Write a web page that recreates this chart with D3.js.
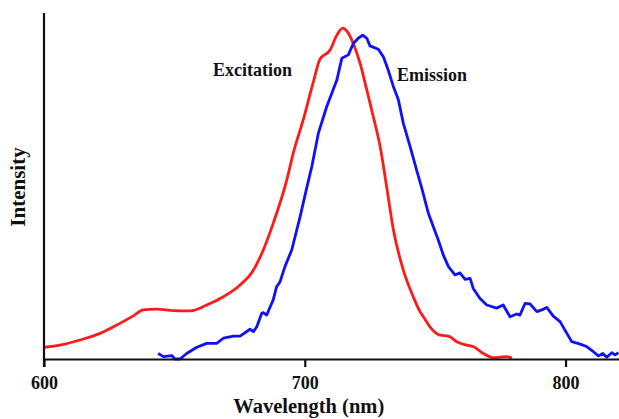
<!DOCTYPE html>
<html>
<head>
<meta charset="utf-8">
<script src="https://cdn.jsdelivr.net/npm/d3@7"></script>
<style>
  html, body { margin: 0; padding: 0; background: #fff; }
  svg { display: block; }
  text { font-family: "Liberation Serif", "Times New Roman", serif; font-weight: bold; fill: #111; }
</style>
</head>
<body>
<svg id="chart" width="619" height="419"></svg>
<script>
// Excitation spectrum: wavelength (nm) and relative intensity
const excitationNm = [600.4, 606.1, 613.8, 621.5, 629.1, 634.1, 638.1, 643.2, 649.6, 656.0, 662.4, 668.8,
  675.2, 679.8, 684.1, 687.9, 693.1, 695.6, 699.4, 703.3, 705.8, 709.7, 712.3, 714.6, 716.3, 718.6,
  721.2, 723.8, 726.3, 728.9, 731.4, 734.0, 737.8, 741.6, 744.2, 745.5, 748.0, 751.9, 755.1, 758.3,
  762.1, 764.6, 768.5, 772.3, 777.4, 779.4];
const excitationI = [0.034, 0.040, 0.055, 0.074, 0.103, 0.124, 0.142, 0.144, 0.140, 0.139, 0.156, 0.180,
  0.214, 0.251, 0.315, 0.392, 0.517, 0.595, 0.691, 0.801, 0.866, 0.893, 0.936, 0.956, 0.946, 0.912,
  0.855, 0.777, 0.700, 0.614, 0.498, 0.373, 0.257, 0.180, 0.137, 0.122, 0.093, 0.069, 0.066, 0.050,
  0.040, 0.036, 0.016, 0.004, 0.007, 0.002];

// Emission spectrum: wavelength (nm) and relative intensity
const emissionNm = [643.8, 645.8, 649.0, 650.2, 652.2, 654.7, 658.6, 662.4, 666.2, 668.8, 672.6, 675.2,
  679.0, 680.3, 681.6, 683.5, 684.1, 685.4, 687.9, 689.2, 690.5, 692.4, 695.0, 698.2, 700.7, 702.7,
  705.2, 708.4, 712.3, 714.2, 716.7, 718.6, 720.5, 722.2, 723.8, 725.0, 728.2, 730.1, 732.0, 734.0,
  735.9, 737.8, 740.4, 742.9, 744.9, 747.4, 749.3, 751.2, 753.1, 755.1, 757.6, 759.5, 761.5, 763.4,
  764.6, 767.2, 769.8, 773.6, 776.1, 778.7, 781.3, 782.5, 784.5, 786.4, 789.0, 790.9, 792.8, 795.3,
  797.9, 800.5, 802.4, 805.6, 808.1, 810.7, 812.6, 814.3, 815.8, 817.7, 819.0, 820.3];
const emissionI = [0.016, 0.007, 0.010, 0.000, 0.000, 0.016, 0.034, 0.045, 0.045, 0.060, 0.066, 0.066,
  0.086, 0.079, 0.093, 0.132, 0.134, 0.127, 0.171, 0.209, 0.223, 0.267, 0.315, 0.411, 0.493, 0.556,
  0.652, 0.729, 0.806, 0.869, 0.879, 0.912, 0.927, 0.936, 0.927, 0.905, 0.895, 0.874, 0.835, 0.787,
  0.749, 0.681, 0.614, 0.546, 0.493, 0.421, 0.382, 0.344, 0.301, 0.267, 0.243, 0.249, 0.230, 0.233,
  0.204, 0.175, 0.156, 0.147, 0.156, 0.122, 0.130, 0.127, 0.161, 0.159, 0.137, 0.142, 0.149, 0.124,
  0.108, 0.074, 0.050, 0.043, 0.036, 0.021, 0.009, 0.016, 0.005, 0.018, 0.012, 0.018];

const xTicks = [600, 700, 800];
const seriesLabels = ["Excitation", "Emission"];
const xTitle = "Wavelength (nm)";
const yTitle = "Intensity";

const svg = d3.select("#chart");
const plotLeft = 44, plotRight = 619, plotTop = 13, plotBottom = 359;

const x = d3.scaleLinear().domain([600, 820.5]).range([plotLeft, plotRight]);
const y = d3.scaleLinear().domain([0, 1]).range([plotBottom, plotTop]);

const excitation = excitationNm.map((w, i) => [w, excitationI[i]]);
const emission = emissionNm.map((w, i) => [w, emissionI[i]]);

// Spectra
svg.append("path")
  .datum(excitation)
  .attr("fill", "none")
  .attr("stroke", "#ff1a1a")
  .attr("stroke-width", 2.8)
  .attr("stroke-linejoin", "round")
  .attr("d", d3.line().x(d => x(d[0])).y(d => y(d[1])).curve(d3.curveMonotoneX));

svg.append("path")
  .datum(emission)
  .attr("fill", "none")
  .attr("stroke", "#1010ff")
  .attr("stroke-width", 2.8)
  .attr("stroke-linejoin", "round")
  .attr("d", d3.line().x(d => x(d[0])).y(d => y(d[1])));

// X axis
const xAxis = svg.append("g")
  .attr("transform", `translate(0,${plotBottom})`)
  .call(d3.axisBottom(x).tickValues(xTicks).tickSize(8).tickPadding(9).tickSizeOuter(0));
xAxis.select(".domain").attr("stroke", "#111").attr("stroke-width", 2.2);
xAxis.selectAll(".tick line").attr("stroke", "#111").attr("stroke-width", 2.2);
xAxis.selectAll(".tick text")
  .attr("font-family", "'Liberation Serif', serif")
  .attr("font-weight", "bold")
  .attr("font-size", 18)
  .attr("fill", "#111");

// Y axis (no ticks), extended down to the tick length
svg.append("line")
  .attr("x1", plotLeft).attr("x2", plotLeft)
  .attr("y1", plotTop).attr("y2", plotBottom + 8)
  .attr("stroke", "#111").attr("stroke-width", 2.2);

// Axis titles
svg.append("text")
  .attr("x", x(700) + 4).attr("y", 413)
  .attr("text-anchor", "middle")
  .attr("font-size", 20.5)
  .text(xTitle);

svg.append("text")
  .attr("transform", `translate(25,187) rotate(-90)`)
  .attr("text-anchor", "middle")
  .attr("font-size", 21)
  .text(yTitle);

// Series labels
svg.append("text")
  .attr("x", 213).attr("y", 76)
  .attr("font-size", 18)
  .text(seriesLabels[0]);

svg.append("text")
  .attr("x", 397).attr("y", 81)
  .attr("font-size", 18)
  .text(seriesLabels[1]);
</script>
</body>
</html>
